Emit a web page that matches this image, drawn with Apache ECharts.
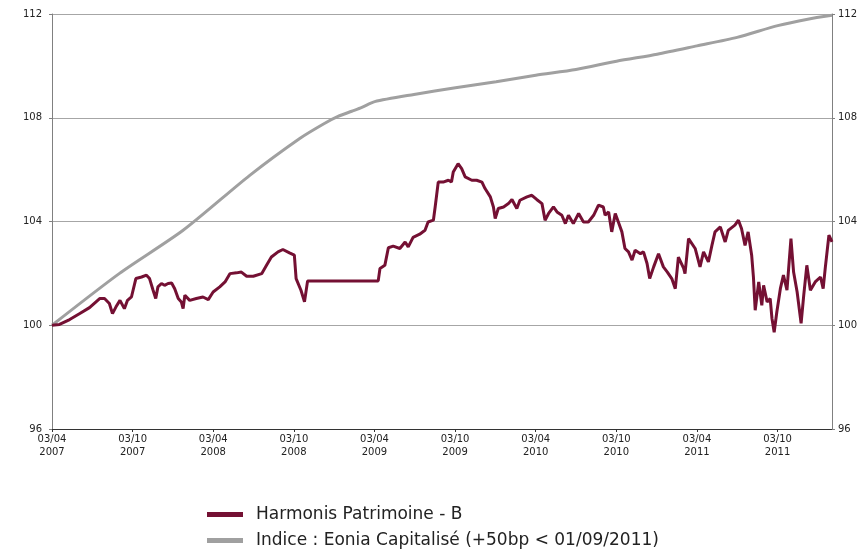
<!DOCTYPE html>
<html>
<head>
<meta charset="utf-8">
<script src="https://cdn.jsdelivr.net/npm/echarts@6/dist/echarts.min.js"></script>
<style>html,body{margin:0;padding:0;background:#fff}#c{width:866px;height:551px}</style>
</head>
<body>
<div id="c"></div>
<script>
const startDate = '2007-04-03';
const endDate = '2012-02-03';
const tickLabels = ['03/04\n2007','03/10\n2007','03/04\n2008','03/10\n2008','03/04\n2009','03/10\n2009','03/04\n2010','03/10\n2010','03/04\n2011','03/10\n2011'];
const yTicks = [96, 100, 104, 108, 112];
const seriesNames = ['Harmonis Patrimoine - B', 'Indice : Eonia Capitalisé (+50bp < 01/09/2011)'];

const fundDates = ['2007-04-03','2007-04-20','2007-05-13','2007-06-05','2007-06-27','2007-07-20','2007-07-31','2007-08-11','2007-08-18','2007-08-26','2007-09-04','2007-09-14','2007-09-21','2007-09-30','2007-10-10','2007-10-23','2007-11-03','2007-11-10','2007-11-18','2007-11-24','2007-11-29','2007-12-07','2007-12-14','2007-12-22','2007-12-30','2008-01-06','2008-01-14','2008-01-21','2008-01-25','2008-01-29','2008-02-09','2008-02-24','2008-03-10','2008-03-22','2008-04-02','2008-04-17','2008-04-29','2008-05-10','2008-05-25','2008-06-05','2008-06-17','2008-07-02','2008-07-21','2008-08-01','2008-08-12','2008-08-27','2008-09-07','2008-09-22','2008-10-03','2008-10-07','2008-10-18','2008-10-26','2008-11-02','2009-04-11','2009-04-15','2009-04-26','2009-05-04','2009-05-15','2009-05-30','2009-06-11','2009-06-18','2009-06-29','2009-07-14','2009-07-26','2009-08-02','2009-08-14','2009-08-18','2009-08-25','2009-09-05','2009-09-17','2009-09-24','2009-09-28','2009-10-09','2009-10-17','2009-10-25','2009-11-09','2009-11-20','2009-12-02','2009-12-09','2009-12-21','2009-12-28','2010-01-01','2010-01-08','2010-01-20','2010-01-31','2010-02-08','2010-02-19','2010-02-26','2010-03-14','2010-03-25','2010-04-05','2010-04-17','2010-04-24','2010-05-02','2010-05-13','2010-05-21','2010-06-01','2010-06-09','2010-06-16','2010-06-27','2010-07-09','2010-07-20','2010-07-31','2010-08-12','2010-08-23','2010-09-03','2010-09-07','2010-09-15','2010-09-22','2010-09-30','2010-10-07','2010-10-15','2010-10-22','2010-10-30','2010-11-07','2010-11-14','2010-11-26','2010-12-03','2010-12-11','2010-12-17','2010-12-26','2011-01-06','2011-01-17','2011-01-26','2011-02-05','2011-02-13','2011-02-20','2011-03-04','2011-03-07','2011-03-15','2011-03-30','2011-04-10','2011-04-18','2011-04-29','2011-05-07','2011-05-14','2011-05-26','2011-06-06','2011-06-13','2011-06-28','2011-07-06','2011-07-13','2011-07-21','2011-07-28','2011-08-05','2011-08-09','2011-08-13','2011-08-21','2011-08-28','2011-09-01','2011-09-09','2011-09-16','2011-09-20','2011-09-25','2011-10-01','2011-10-09','2011-10-16','2011-10-24','2011-11-02','2011-11-08','2011-11-16','2011-11-25','2011-12-01','2011-12-08','2011-12-16','2011-12-27','2012-01-08','2012-01-14','2012-01-19','2012-01-27','2012-02-03'];
const fundValues = [100.00,100.03,100.22,100.45,100.68,101.03,101.03,100.84,100.45,100.71,100.96,100.64,100.96,101.09,101.80,101.86,101.93,101.80,101.35,101.03,101.48,101.61,101.54,101.61,101.63,101.41,101.03,100.90,100.64,101.16,100.96,101.03,101.09,100.99,101.28,101.48,101.67,101.99,102.02,102.05,101.89,101.89,101.99,102.31,102.63,102.83,102.92,102.79,102.70,101.80,101.35,100.90,101.71,101.71,102.19,102.31,102.99,103.05,102.96,103.21,103.02,103.39,103.51,103.66,103.98,104.05,104.56,105.52,105.52,105.59,105.52,105.91,106.23,106.04,105.72,105.59,105.59,105.52,105.27,104.95,104.56,104.11,104.50,104.56,104.69,104.85,104.50,104.82,104.95,105.01,104.85,104.69,104.05,104.31,104.56,104.37,104.24,103.92,104.24,103.92,104.31,103.98,103.98,104.24,104.63,104.56,104.24,104.37,103.60,104.31,103.98,103.60,102.96,102.83,102.51,102.89,102.76,102.83,102.38,101.80,102.25,102.76,102.25,102.05,101.80,101.41,102.63,102.19,101.99,103.34,102.96,102.25,102.83,102.44,103.08,103.60,103.79,103.21,103.66,103.86,104.05,103.73,103.08,103.60,102.70,101.86,100.58,101.67,100.77,101.54,100.90,101.03,100.26,99.73,100.51,101.41,101.93,101.35,103.34,102.05,101.28,100.07,101.16,102.31,101.35,101.67,101.86,101.41,102.25,103.47,103.21];

const indexDates = ['2007-04-03','2007-09-03','2008-01-25','2008-06-24','2008-10-16','2008-12-10','2009-01-10','2009-02-10','2009-03-05','2009-04-03','2009-07-01','2009-10-03','2010-01-03','2010-04-03','2010-07-03','2010-10-03','2011-01-03','2011-04-03','2011-07-03','2011-10-03','2011-12-10','2012-02-03'];
const indexValues = [100.00,102.00,103.66,105.78,107.21,107.78,108.05,108.25,108.40,108.62,108.90,109.16,109.39,109.64,109.86,110.18,110.45,110.77,111.10,111.55,111.80,111.95];

const DAY = 86400000;
const t0 = Date.parse(startDate);
const toDay = d => (Date.parse(d) - t0) / DAY;
const halfYear = 182.625;

const fundData = fundDates.map((d, i) => [toDay(d), fundValues[i]]);
const indexData = indexDates.map((d, i) => [toDay(d), indexValues[i]]);

const chart = echarts.init(document.getElementById('c'), null, {renderer: 'canvas'});
const axisFont = {fontFamily: 'DejaVu Sans', fontSize: 10, color: '#222'};
const yAxisCommon = {
  type: 'value', min: yTicks[0], max: yTicks[yTicks.length - 1], interval: 4,
  axisLine: {show: true, lineStyle: {color: '#808080', width: 1}},
  axisTick: {show: true, length: 3, lineStyle: {color: '#808080'}},
  splitLine: {show: true, lineStyle: {color: '#a6a6a6', width: 1}},
};
const legendCommon = {
  orient: 'vertical', left: 207, padding: 0, itemWidth: 36, itemHeight: 5, icon: 'rect',
  textStyle: {fontFamily: 'DejaVu Sans', fontSize: 17, color: '#222', padding: [0, 0, 0, 8]}
};
chart.setOption({
  animation: false,
  grid: {left: 52, right: 34, top: 14, bottom: 122, containLabel: false},
  xAxis: {
    type: 'value', min: 0, max: toDay(endDate), interval: halfYear,
    axisLine: {show: true, onZero: false, lineStyle: {color: '#333', width: 1}},
    axisTick: {show: true, length: 3, lineStyle: {color: '#333'}},
    splitLine: {show: false},
    axisLabel: Object.assign({}, axisFont, {
      margin: 4, lineHeight: 13, showMaxLabel: false,
      formatter: v => {
        const k = Math.round(v / halfYear);
        return Math.abs(v - k * halfYear) < 1 && tickLabels[k] ? tickLabels[k] : '';
      }
    })
  },
  yAxis: [
    Object.assign({}, yAxisCommon, {position: 'left', axisLabel: Object.assign({}, axisFont, {margin: 10})}),
    Object.assign({}, yAxisCommon, {position: 'right', splitLine: {show: false}, axisLabel: Object.assign({}, axisFont, {margin: 6})})
  ],
  legend: [
    Object.assign({}, legendCommon, {top: 506, data: [seriesNames[0]]}),
    Object.assign({}, legendCommon, {top: 532, data: [seriesNames[1]]})
  ],
  series: [
    {name: seriesNames[1], type: 'line', data: indexData, showSymbol: false, smooth: 0.25,
     lineStyle: {color: '#a0a0a0', width: 3}, itemStyle: {color: '#a0a0a0'}, z: 2},
    {name: seriesNames[0], type: 'line', data: fundData, showSymbol: false,
     lineStyle: {color: '#741033', width: 3}, itemStyle: {color: '#741033'}, z: 3}
  ]
});
</script>
</body>
</html>
